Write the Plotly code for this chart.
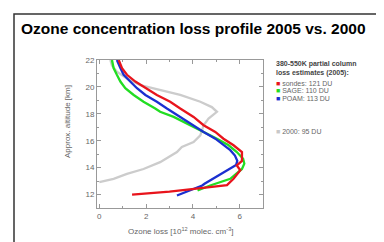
import plotly.graph_objects as go

# --- data ---
sondes_alt = [12.0, 12.22, 12.5, 12.7, 13.17, 13.57, 13.8, 14.16, 14.5, 15.16, 15.66, 16.15, 16.65, 17.15, 17.77, 18.4, 18.9, 19.4, 19.9, 20.4, 20.9, 21.4, 22.0]
sondes_loss = [1.4, 3.0, 4.44, 5.46, 5.74, 5.94, 6.03, 5.88, 6.1, 6.1, 5.74, 5.31, 4.96, 4.46, 4.03, 3.46, 3.03, 2.46, 1.97, 1.54, 1.18, 0.97, 0.83]

poam_alt = [11.93, 12.4, 12.67, 12.8, 13.5, 13.94, 14.2, 14.5, 14.9, 15.3, 15.66, 16.15, 16.65, 17.15, 17.77, 18.4, 18.9, 19.4, 19.9, 20.4, 20.9, 21.4, 22.0]
poam_loss = [3.32, 4.0, 4.4, 4.5, 5.2, 5.65, 5.85, 5.9, 5.8, 5.6, 5.31, 4.96, 4.46, 4.03, 3.46, 2.89, 2.46, 1.97, 1.61, 1.32, 1.04, 0.9, 0.75]

sage_alt = [12.3, 12.5, 12.67, 13.17, 13.9, 14.3, 14.66, 15.16, 15.66, 16.15, 16.65, 17.15, 17.77, 18.15, 18.4, 18.9, 19.4, 19.9, 20.4, 20.9, 21.4, 22.0]
sage_loss = [4.2, 4.5, 4.74, 5.6, 6.1, 6.2, 6.15, 5.88, 5.53, 5.03, 4.46, 3.89, 3.18, 2.6, 2.39, 1.89, 1.47, 1.11, 0.9, 0.75, 0.61, 0.54]

y2000_alt = [12.92, 13.17, 13.54, 13.9, 14.41, 15.16, 15.53, 15.9, 16.4, 17.15, 17.65, 18.15, 18.5, 18.9, 19.4, 19.76, 20.13, 20.63, 21.13, 21.6, 22.0]
y2000_loss = [0.0, 0.61, 1.18, 1.89, 2.6, 3.32, 3.53, 4.03, 4.32, 4.46, 4.67, 5.03, 4.81, 4.32, 3.46, 2.6, 1.75, 1.18, 0.75, 0.54, 0.47]

x_ticks = [0, 2, 4, 6]
y_ticks = [12, 14, 16, 18, 20, 22]

legend_entries = [("sondes: 121 DU", "#e8141c"), ("SAGE: 110 DU", "#22dd22"),
                  ("POAM: 113 DU", "#1a2fd0"), ("2000: 95 DU", "#c8c8c8")]

# --- figure ---
W, H = 384, 242
OFF = 8  # page body margin offset
L, R, T, B = 97 - OFF, 263 - OFF, 60 - OFF, 208 - OFF  # plot area in figure pixels


def px(x):
    return (x - OFF - L) / (R - L)


def py(y):
    return (B - (y - OFF)) / (B - T)


fig = go.Figure()
for xs, ys, col in [(y2000_loss, y2000_alt, "#cccccc"), (sage_loss, sage_alt, "#22dd22"),
                    (poam_loss, poam_alt, "#1a2fd0"), (sondes_loss, sondes_alt, "#e8141c")]:
    fig.add_trace(go.Scatter(x=xs, y=ys, mode="lines", line=dict(color=col, width=2.3),
                             showlegend=False, hoverinfo="skip"))

axis_common = dict(showline=True, linecolor="#999999", linewidth=1, mirror="ticks",
                   ticks="inside", ticklen=4, tickcolor="#999999", showgrid=False, zeroline=False,
                   tickfont=dict(family="Arial", size=8, color="#666666"))
fig.update_xaxes(range=[-0.1, 7], tickvals=x_ticks,
                 minor=dict(dtick=1, tick0=0, ticks="inside", ticklen=2, tickcolor="#999999"),
                 **axis_common)
fig.update_yaxes(range=[11, 22], tickvals=y_ticks,
                 minor=dict(dtick=1, tick0=11, ticks="inside", ticklen=2, tickcolor="#999999"),
                 **axis_common)

ann = []
ann.append(dict(x=px(193), y=py(28), xref="paper", yref="paper", showarrow=False,
                text="<b>Ozone concentration loss profile 2005 vs. 2000</b>",
                font=dict(family="Arial", size=15.5, color="#000000"), xanchor="center", yanchor="middle"))
ann.append(dict(x=px(67), y=py(122), xref="paper", yref="paper", showarrow=False, textangle=-90,
                text="Approx. altitude [km]", font=dict(family="Arial", size=8, color="#666666"),
                xanchor="center", yanchor="middle"))
ann.append(dict(x=px(181), y=py(231), xref="paper", yref="paper", showarrow=False,
                text="Ozone loss [10<sup>12</sup> molec. cm<sup>-3</sup>]",
                font=dict(family="Arial", size=8, color="#666666"), xanchor="center", yanchor="middle"))
ann.append(dict(x=px(274), y=py(64.5), xref="paper", yref="paper", showarrow=False,
                text="<b>380-550K partial column</b>", font=dict(family="Arial", size=7, color="#444444"),
                xanchor="left", yanchor="middle"))
ann.append(dict(x=px(274), y=py(72.5), xref="paper", yref="paper", showarrow=False,
                text="<b>loss estimates (2005):</b>", font=dict(family="Arial", size=7, color="#444444"),
                xanchor="left", yanchor="middle"))
for (txt, col), yy in zip(legend_entries, [83, 90.5, 98, 131]):
    ann.append(dict(x=px(274), y=py(yy), xref="paper", yref="paper", showarrow=False,
                    text=f"<span style='color:{col}'>■</span> {txt}",
                    font=dict(family="Arial", size=7, color="#666666"), xanchor="left", yanchor="middle"))

fig.update_layout(
    width=W, height=H,
    margin=dict(l=L, r=W - R, t=T, b=H - B, pad=0),
    paper_bgcolor="white", plot_bgcolor="white",
    annotations=ann,
    shapes=[dict(type="rect", xref="paper", yref="paper", x0=px(14), x1=px(379), y0=py(270), y1=py(14),
                 line=dict(color="#333333", width=1.5), fillcolor="rgba(0,0,0,0)", layer="above")],
)

fig.write_html("out.html")
